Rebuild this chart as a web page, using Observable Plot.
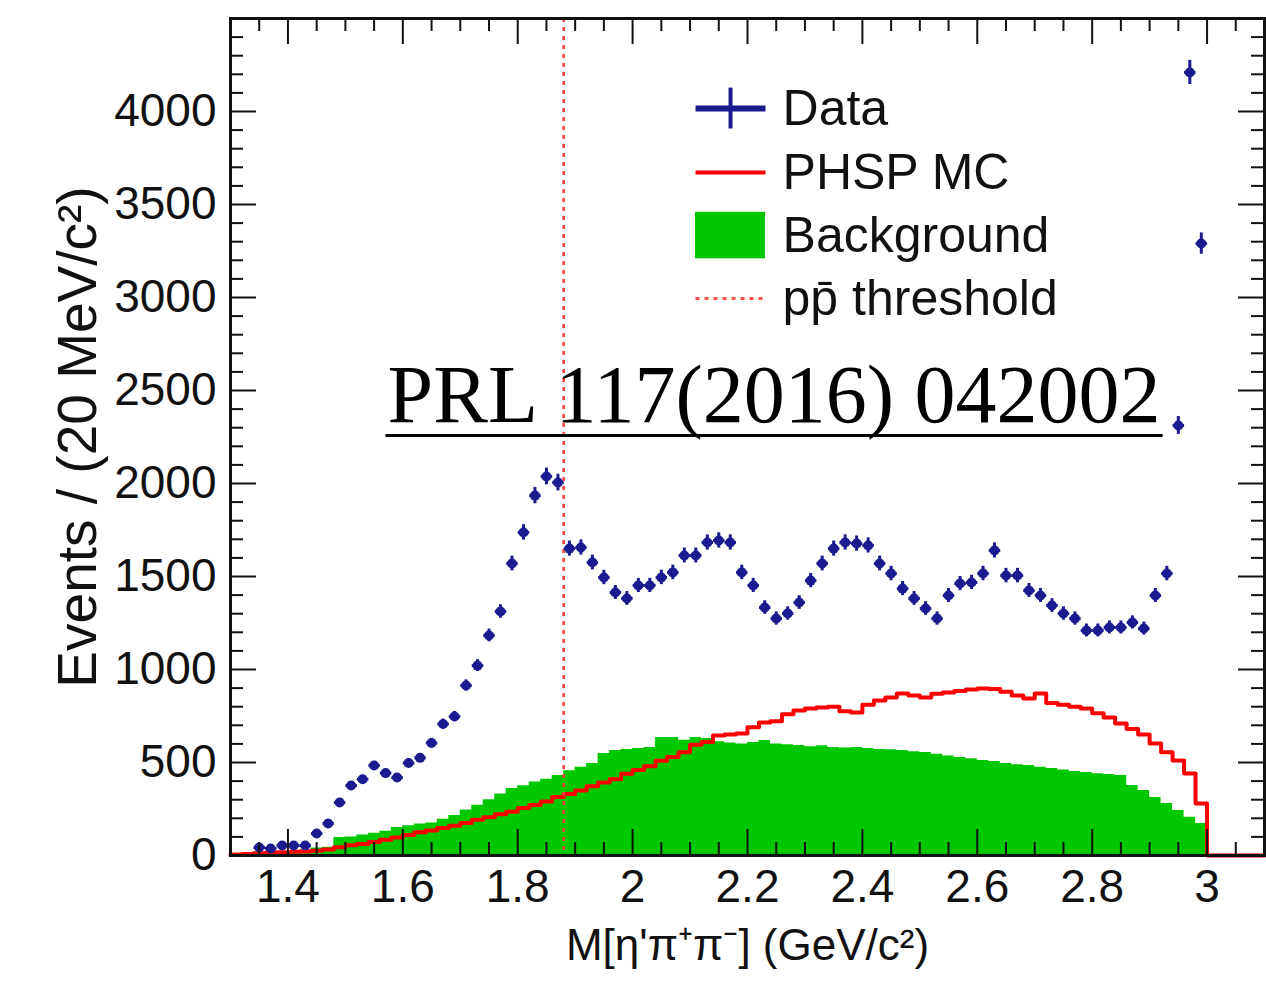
<!DOCTYPE html>
<html><head><meta charset="utf-8">
<script src="https://cdn.jsdelivr.net/npm/d3@7"></script>
<script src="https://cdn.jsdelivr.net/npm/@observablehq/plot@0.6"></script>
<style>body{margin:0;background:#fff}</style>
</head><body><div id="chart"></div>
<script>
// 20 MeV bin centres (GeV/c^2)
const binCenters = [
1.31,1.33,1.35,1.37,1.39,1.41,1.43,1.45,1.47,1.49,
1.51,1.53,1.55,1.57,1.59,1.61,1.63,1.65,1.67,1.69,
1.71,1.73,1.75,1.77,1.79,1.81,1.83,1.85,1.87,1.89,
1.91,1.93,1.95,1.97,1.99,2.01,2.03,2.05,2.07,2.09,
2.11,2.13,2.15,2.17,2.19,2.21,2.23,2.25,2.27,2.29,
2.31,2.33,2.35,2.37,2.39,2.41,2.43,2.45,2.47,2.49,
2.51,2.53,2.55,2.57,2.59,2.61,2.63,2.65,2.67,2.69,
2.71,2.73,2.75,2.77,2.79,2.81,2.83,2.85,2.87,2.89,
2.91,2.93,2.95,2.97,2.99,3.01,3.03,3.05,3.07,3.09];
const binWidth = 0.02;
const dataCounts = [
null,null,43,38,54,54,54,118,172,285,
376,410,484,443,419,497,525,605,707,747,
914,1021,1183,1312,1570,1737,1935,2038,2005,1650,
1656,1575,1495,1414,1382,1452,1452,1495,1522,1613,
1613,1683,1694,1683,1522,1452,1333,1274,1301,1360,
1478,1570,1650,1683,1677,1667,1570,1516,1435,1382,
1328,1274,1398,1462,1468,1516,1640,1505,1505,1425,
1398,1344,1301,1274,1210,1210,1226,1226,1253,1220,
1398,1516,2312,4210,3290,null,null,null,null,null];
const mcCounts = [
5,8,12,15,18,20,22,25,32,45,
55,62,72,85,97,110,125,135,148,160,
175,192,205,222,235,255,272,290,315,330,
350,372,392,410,440,460,480,510,530,555,
595,610,645,650,656,690,715,722,760,780,
790,796,800,775,769,810,833,850,871,860,
850,870,876,885,892,898,895,880,860,844,
871,820,810,800,790,765,742,710,680,650,
602,555,511,441,280,0,0,0,0,0];
const bkgCounts = [
0,0,5,10,15,20,30,40,45,97,
100,110,120,130,150,160,170,175,195,215,
245,270,300,330,360,375,395,410,430,455,
475,495,548,565,570,575,580,634,634,620,
634,629,612,605,600,608,618,600,595,591,
585,590,581,578,580,575,570,568,565,558,
554,545,535,527,520,511,505,495,488,484,
475,468,460,452,446,440,435,430,376,350,
312,280,242,205,172,0,0,0,0,0];
const ppbarThreshold = 1.88;

const xTickValues = [1.4,1.6,1.8,2.0,2.2,2.4,2.6,2.8,3.0];
const xTickLabels = ["1.4","1.6","1.8","2","2.2","2.4","2.6","2.8","3"];
const yTickValues = [0,500,1000,1500,2000,2500,3000,3500,4000];
const xLabel = "M[η'π⁺π⁻] (GeV/c²)";
const yLabel = "Events / (20 MeV/c²)";
const legendLabels = ["Data","PHSP MC","Background","pp\u0304 threshold"];
const legendRowY = [4016, 3672, 3333, 2994];
const referenceNote = "PRL 117(2016) 042002";

// derived tables
const dataPts = binCenters.map((c,i)=>({x:c, y:dataCounts[i]})).filter(d=>d.y!=null);
function stepPoints(vals){
  const pts = binCenters.map((c,i)=>({x:c-binWidth/2, y:vals[i]}));
  pts.push({x:binCenters[binCenters.length-1]+binWidth/2, y:vals[vals.length-1]});
  return pts;
}
const mcSteps = stepPoints(mcCounts);
const bkgSteps = stepPoints(bkgCounts);

const W = 1266, H = 984, mL = 230, mR = 2, mT = 18, mB = 129;
const innerH = H - mT - mB, innerW = W - mL - mR;
const majLen = 26, minLen = 13;
const xMinor = d3.range(1.3, 3.1001, 0.05).filter(v => !xTickValues.some(t => Math.abs(t - v) < 1e-6));
const yMinor = d3.range(0, 4501, 100).filter(v => v % 500 !== 0);
const yMajorAll = d3.range(0, 4501, 500);
const xMajorAll = [...xTickValues];

const ink = "#111";
const blue = "#1b1b8f";
const font = "Liberation Sans, Arial, Helvetica, sans-serif";

const lx1 = 2.1095, lx2 = 2.2314, ltx = 2.261;
// reference-note underline span (data units)
const noteX1 = 1.5698, noteX2 = 2.9226, noteUnderY = 2258;

const chart = Plot.plot({
  width: W, height: H,
  marginLeft: mL, marginRight: mR, marginTop: mT, marginBottom: mB,
  style: {fontFamily: font, background: "white", color: ink},
  x: {domain: [1.3, 3.1]},
  y: {domain: [0, 4500]},
  marks: [
    Plot.areaY(bkgSteps, {x: "x", y: "y", curve: "step-after", fill: "#00c800"}),
    Plot.line(mcSteps, {x: "x", y: "y", curve: "step-after", stroke: "#ff0000", strokeWidth: 4}),
    Plot.ruleX([ppbarThreshold], {stroke: "#ff3b3b", strokeWidth: 2.5, strokeDasharray: "4,5"}),
    Plot.ruleX(dataPts, {x: "x", y1: d => d.y - Math.sqrt(d.y), y2: d => d.y + Math.sqrt(d.y), stroke: blue, strokeWidth: 3}),
    Plot.link(dataPts, {x1: d => d.x - binWidth/2, x2: d => d.x + binWidth/2, y1: "y", y2: "y", stroke: blue, strokeWidth: 3}),
    Plot.dot(dataPts, {x: "x", y: "y", r: 5, fill: blue}),
    // ticks (inside the frame, ROOT-style)
    Plot.tickX(xMajorAll, {x: d => d, insetTop: innerH - majLen, stroke: ink, strokeWidth: 2}),
    Plot.tickX(xMinor, {x: d => d, insetTop: innerH - minLen, stroke: ink, strokeWidth: 2}),
    Plot.tickX(xMajorAll, {x: d => d, insetBottom: innerH - majLen, stroke: ink, strokeWidth: 2}),
    Plot.tickX(xMinor, {x: d => d, insetBottom: innerH - minLen, stroke: ink, strokeWidth: 2}),
    Plot.tickY(yMajorAll, {y: d => d, insetRight: innerW - majLen, stroke: ink, strokeWidth: 2}),
    Plot.tickY(yMinor, {y: d => d, insetRight: innerW - minLen, stroke: ink, strokeWidth: 2}),
    Plot.tickY(yMajorAll, {y: d => d, insetLeft: innerW - majLen, stroke: ink, strokeWidth: 2}),
    Plot.tickY(yMinor, {y: d => d, insetLeft: innerW - minLen, stroke: ink, strokeWidth: 2}),
    Plot.frame({stroke: ink, strokeWidth: 3}),
    Plot.axisX(xTickValues, {tickSize: 0, tickPadding: 14, fontSize: 46, fill: ink,
      tickFormat: d => xTickLabels[xTickValues.indexOf(d)], label: null}),
    Plot.axisY(yTickValues, {tickSize: 0, tickPadding: 14, fontSize: 46, fill: ink, label: null,
      tickFormat: d => String(d)}),
    Plot.text([xLabel], {frameAnchor: "bottom", dy: 90, fontSize: 44, fill: ink, textAnchor: "middle", lineAnchor: "middle"}),
    Plot.text([yLabel], {frameAnchor: "left", rotate: -90, dx: -152, fontSize: 55, fill: ink, textAnchor: "middle", lineAnchor: "middle"}),
    // legend
    Plot.link([legendRowY[0]], {x1: lx1, x2: lx2, y1: d => d, y2: d => d, stroke: blue, strokeWidth: 6}),
    Plot.ruleX([(lx1 + lx2) / 2], {y1: legendRowY[0] - 110, y2: legendRowY[0] + 110, stroke: blue, strokeWidth: 4}),
    Plot.link([legendRowY[1]], {x1: lx1, x2: lx2, y1: d => d, y2: d => d, stroke: "#ff0000", strokeWidth: 4}),
    Plot.rect([legendRowY[2]], {x1: lx1, x2: lx2, y1: d => d - 125, y2: d => d + 125, fill: "#00c800"}),
    Plot.link([legendRowY[3]], {x1: lx1, x2: lx2, y1: d => d, y2: d => d, stroke: "#ff4d4d", strokeWidth: 3, strokeDasharray: "4,5"}),
    Plot.text(legendLabels, {x: ltx, y: (d, i) => legendRowY[i], text: d => d, textAnchor: "start", lineAnchor: "middle", fontSize: 50, fill: ink}),
    Plot.text([referenceNote], {x: (noteX1 + noteX2) / 2, y: 2328, text: d => d, lineAnchor: "bottom", fontSize: 82, fontFamily: "Liberation Serif, Times New Roman, serif", fill: "#000"}),
    Plot.link([noteUnderY], {x1: noteX1, x2: noteX2, y1: d => d, y2: d => d, stroke: "#000", strokeWidth: 3})
  ]
});
document.getElementById("chart").appendChild(chart);
</script>
</body></html>
